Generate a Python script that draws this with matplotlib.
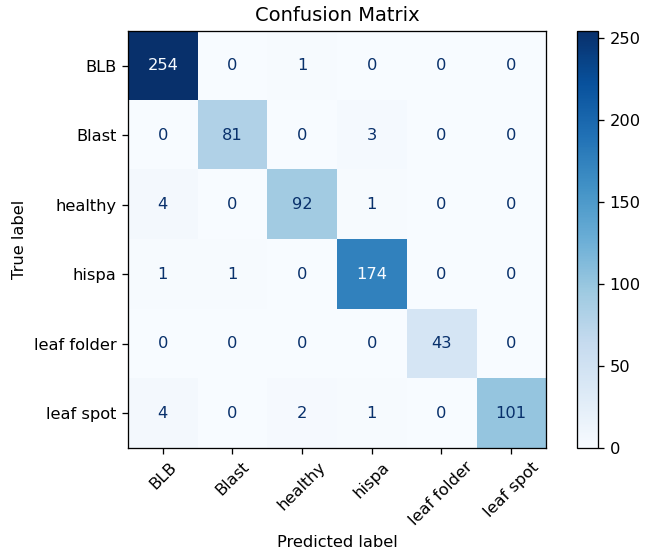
import numpy as np
import matplotlib
matplotlib.use("Agg")
import matplotlib.pyplot as plt

labels = ["BLB", "Blast", "healthy", "hispa", "leaf folder", "leaf spot"]
counts = [
    [254, 0, 1, 0, 0, 0],
    [0, 81, 0, 3, 0, 0],
    [4, 0, 92, 1, 0, 0],
    [1, 1, 0, 174, 0, 0],
    [0, 0, 0, 0, 43, 0],
    [4, 0, 2, 1, 0, 101],
]

cm = np.array(counts)
cmap = plt.get_cmap("Blues")

# rendered a bit larger than default dpi so text/lines scale like the original
DPI = 117
fig = plt.figure(figsize=(645 / DPI, 557 / DPI), dpi=DPI)
ax = fig.add_axes([0.1984, 0.1957, 0.6481, 0.7487])
cax = fig.add_axes([0.8946, 0.1957, 0.0326, 0.7487])

im = ax.imshow(cm, cmap=cmap, interpolation="nearest", aspect="auto")
cb = fig.colorbar(im, cax=cax)

thresh = (cm.max() + cm.min()) / 2.0
cmap_min, cmap_max = cmap(0.0), cmap(1.0)
for i in range(cm.shape[0]):
    for j in range(cm.shape[1]):
        color = cmap_max if cm[i, j] < thresh else cmap_min
        ax.text(j, i, str(cm[i, j]), ha="center", va="center", color=color)

ax.set_xticks(range(len(labels)))
ax.set_yticks(range(len(labels)))
ax.set_xticklabels(labels, rotation=45, ha="center")
ax.set_yticklabels(labels)
ax.set_xlabel("Predicted label")
ax.set_ylabel("True label")
ax.set_title("Confusion Matrix")
ax.set_ylim(len(labels) - 0.5, -0.5)

fig.savefig("out.png", dpi=DPI)
